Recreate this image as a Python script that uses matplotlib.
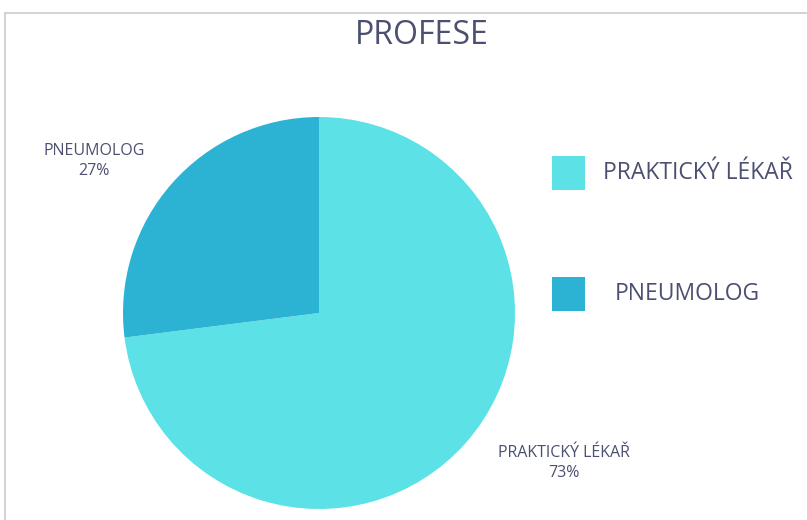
import matplotlib.pyplot as plt
from matplotlib.patches import Rectangle

# data
labels = ['PRAKTICKÝ LÉKAŘ', 'PNEUMOLOG']
shares = [73, 27]
colors = ['#5CE1E6', '#2CB3D4']
txt = '#4B5070'

plt.rcParams['font.family'] = ['Open Sans', 'DejaVu Sans']

fig = plt.figure(figsize=(8.07, 5.20), dpi=100)

# frame lines on left and top
fig.add_artist(plt.Line2D([5/807, 5/807], [0, 1 - 13/520], color='#CCCCCC', lw=1.2))
fig.add_artist(plt.Line2D([5/807, 1], [1 - 13/520, 1 - 13/520], color='#CCCCCC', lw=1.2))

fig.text(422/807, 1 - 35/520, 'PROFESE', ha='center', va='center',
         fontsize=23, color=txt)

ax = fig.add_axes([123/807, 11/520, 392/807, 392/520])
ax.pie(shares, colors=colors, startangle=90, counterclock=False,
       wedgeprops=dict(linewidth=0))
ax.set_xlim(-1, 1)
ax.set_ylim(-1, 1)
ax.set_aspect('equal')

# slice labels
fig.text(94/807, 1 - 151/520, labels[1], ha='center', va='center', fontsize=11.5, color=txt)
fig.text(94/807, 1 - 171/520, f'{shares[1]}%', ha='center', va='center', fontsize=11.5, color=txt)
fig.text(564/807, 1 - 453/520, labels[0], ha='center', va='center', fontsize=11.5, color=txt)
fig.text(564/807, 1 - 473/520, f'{shares[0]}%', ha='center', va='center', fontsize=11.5, color=txt)

# legend drawn by hand
leg_y = [173, 294]
leg_x = [603, 615]
for lab, c, y, x in zip(labels, colors, leg_y, leg_x):
    fig.add_artist(Rectangle((552/807, 1 - (y + 17)/520), 33/807, 34/520,
                             transform=fig.transFigure, facecolor=c, edgecolor='none'))
    fig.text(x/807, 1 - y/520, lab, ha='left', va='center', fontsize=16.5, color=txt)

fig.savefig('out.png', dpi=100, facecolor='white')
